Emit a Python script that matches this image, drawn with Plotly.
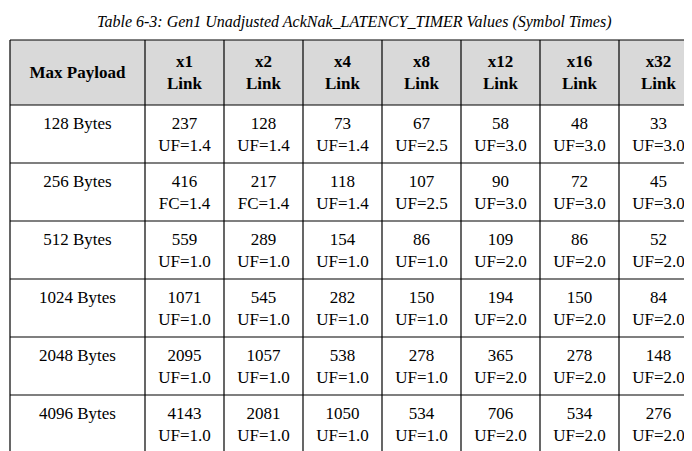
import plotly.graph_objects as go

title = "Table 6-3: Gen1 Unadjusted AckNak_LATENCY_TIMER Values (Symbol Times)"
headers = ["Max Payload", "x1<br>Link", "x2<br>Link", "x4<br>Link", "x8<br>Link",
           "x12<br>Link", "x16<br>Link", "x32<br>Link"]
payloads = ["128 Bytes", "256 Bytes", "512 Bytes", "1024 Bytes", "2048 Bytes", "4096 Bytes"]

x1 = ["237<br>UF=1.4", "416<br>FC=1.4", "559<br>UF=1.0", "1071<br>UF=1.0", "2095<br>UF=1.0", "4143<br>UF=1.0"]
x2 = ["128<br>UF=1.4", "217<br>FC=1.4", "289<br>UF=1.0", "545<br>UF=1.0", "1057<br>UF=1.0", "2081<br>UF=1.0"]
x4 = ["73<br>UF=1.4", "118<br>UF=1.4", "154<br>UF=1.0", "282<br>UF=1.0", "538<br>UF=1.0", "1050<br>UF=1.0"]
x8 = ["67<br>UF=2.5", "107<br>UF=2.5", "86<br>UF=1.0", "150<br>UF=1.0", "278<br>UF=1.0", "534<br>UF=1.0"]
x12 = ["58<br>UF=3.0", "90<br>UF=3.0", "109<br>UF=2.0", "194<br>UF=2.0", "365<br>UF=2.0", "706<br>UF=2.0"]
x16 = ["48<br>UF=3.0", "72<br>UF=3.0", "86<br>UF=2.0", "150<br>UF=2.0", "278<br>UF=2.0", "534<br>UF=2.0"]
x32 = ["33<br>UF=3.0", "45<br>UF=3.0", "52<br>UF=2.0", "84<br>UF=2.0", "148<br>UF=2.0", "276<br>UF=2.0"]

columns = [payloads, x1, x2, x4, x8, x12, x16, x32]

# layout geometry in pixels
col_edges = [2, 137, 216, 295, 374, 453, 532, 611, 690]
head_top, head_bot, row_h = 32, 97, 58
font = "Liberation Serif"

fig = go.Figure()
shapes = [dict(type="rect", x0=col_edges[0], x1=col_edges[-1], y0=head_top, y1=head_bot,
               fillcolor="#d9d9d9", line=dict(width=0), layer="below")]
n_rows = len(payloads)
bottom = head_bot + row_h * n_rows
for xe in col_edges:
    shapes.append(dict(type="line", x0=xe, x1=xe, y0=head_top, y1=bottom,
                       line=dict(color="black", width=1.2)))
for ye in [head_top, head_bot] + [head_bot + row_h * (i + 1) for i in range(n_rows)]:
    shapes.append(dict(type="line", x0=col_edges[0], x1=col_edges[-1], y0=ye, y1=ye,
                       line=dict(color="black", width=1.2)))

for c, (hdr, vals) in enumerate(zip(headers, columns)):
    xc = (col_edges[c] + col_edges[c + 1]) / 2
    fig.add_trace(go.Scatter(
        x=[xc], y=[(head_top + head_bot) / 2 + 1], mode="text",
        text=["<b>" + hdr.replace("<br>", "</b><br><b>") + "</b>"],
        textfont=dict(family=font, size=17, color="black"), hoverinfo="skip"))
    off = 20 if c == 0 else 31
    fig.add_trace(go.Scatter(
        x=[xc] * n_rows, y=[head_bot + row_h * i + off for i in range(n_rows)],
        mode="text", text=vals,
        textfont=dict(family=font, size=17, color="black"), hoverinfo="skip"))

fig.update_layout(
    width=692, height=451, margin=dict(l=0, r=0, t=0, b=0),
    paper_bgcolor="white", plot_bgcolor="white", showlegend=False,
    xaxis=dict(range=[0, 692], visible=False, fixedrange=True),
    yaxis=dict(range=[451, 0], visible=False, fixedrange=True),
    shapes=shapes,
    annotations=[dict(text="<i>" + title + "</i>", x=346, y=14, xref="x", yref="y",
                      showarrow=False, font=dict(family=font, size=16, color="black"))],
)

fig.write_html("out.html")
